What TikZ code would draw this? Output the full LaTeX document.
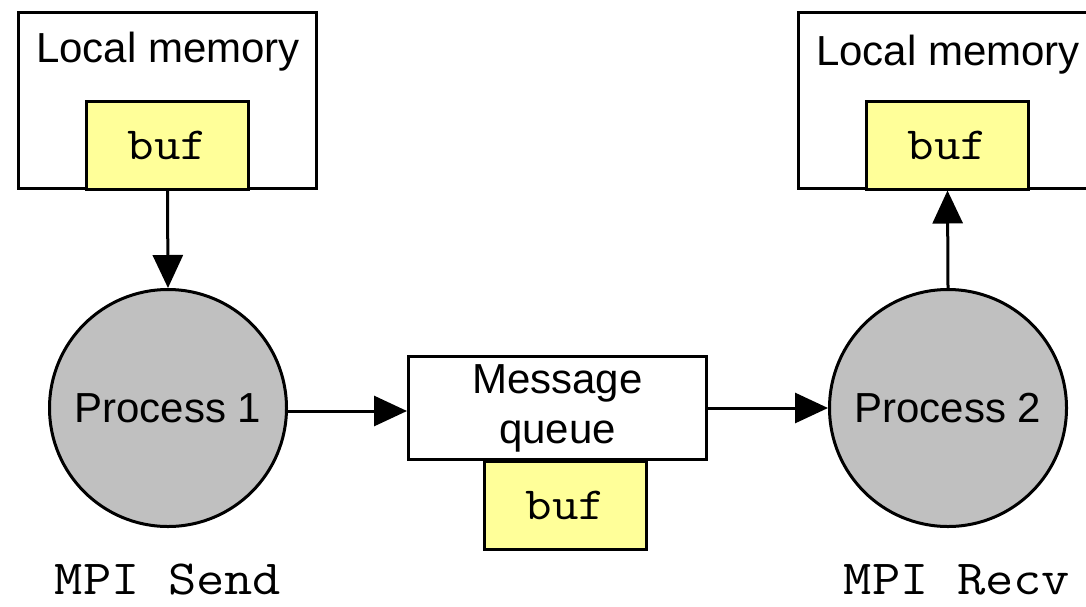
\documentclass[tikz,border=0pt]{standalone}
\usepackage{fontspec}
\setmainfont{Liberation Sans}
\setmonofont[FakeStretch=1.12]{Latin Modern Mono}
\usetikzlibrary{arrows.meta}
\definecolor{bufyellow}{HTML}{FFFF99}
\definecolor{procgray}{HTML}{C0C0C0}
\begin{document}
\begin{tikzpicture}[x=1pt,y=-1pt,line width=3pt,
  box/.style={draw,rectangle,inner sep=0pt,fill=white},
  bufbox/.style={draw,rectangle,inner sep=0pt,fill=bufyellow,minimum width=162pt,minimum height=88pt,
    font=\ttfamily\fontsize{46}{50}\selectfont},
  proc/.style={draw,circle,fill=procgray,minimum size=237pt,inner sep=0pt,
    font=\fontsize{42}{46}\selectfont},
  lbl/.style={font=\fontsize{42}{46}\selectfont,inner sep=0pt},
  call/.style={font=\ttfamily\fontsize{49}{52}\selectfont,inner sep=0pt},
  arr/.style={-{Triangle[length=33pt,width=30pt]}}]
\useasboundingbox (0,0) rectangle (1086,606);
\clip (0,0) rectangle (1086,606);

% sender side
\node[box,minimum width=298pt,minimum height=176pt] (mem1) at (167.5,100.5) {};
\node[lbl] (mem1t) at (168,52) {Local memory};
\node[bufbox] (buf1) at (167.5,145) {buf};
\node[proc] (p1) at (168,408) {Process 1};
\node[call] (send) at (168,580) {MPI Send};

% receiver side
\node[box,minimum width=298pt,minimum height=176pt] (mem2) at (947.5,100.5) {};
\node[lbl] (mem2t) at (948,55) {Local memory};
\node[bufbox] (buf2) at (947.5,145) {buf};
\node[proc] (p2) at (948,408) {Process 2};
\node[call] (recv) at (957,580) {MPI Recv};

% message queue in between
\node[box,minimum width=298pt,minimum height=103pt,align=center,
  font=\fontsize{42}{50}\selectfont] (queue) at (557.5,408) {Message\\queue};
\node[bufbox] (bufq) at (565.5,505) {buf};

% data flow
\draw[arr] (buf1.south) -- (p1.north);
\draw[arr] (p1.east |- 0,411) -- (queue.west |- 0,411);
\draw[arr] (queue.east) -- (p2.west);
\draw[arr] (p2.north) -- (buf2.south);
\end{tikzpicture}
\end{document}
